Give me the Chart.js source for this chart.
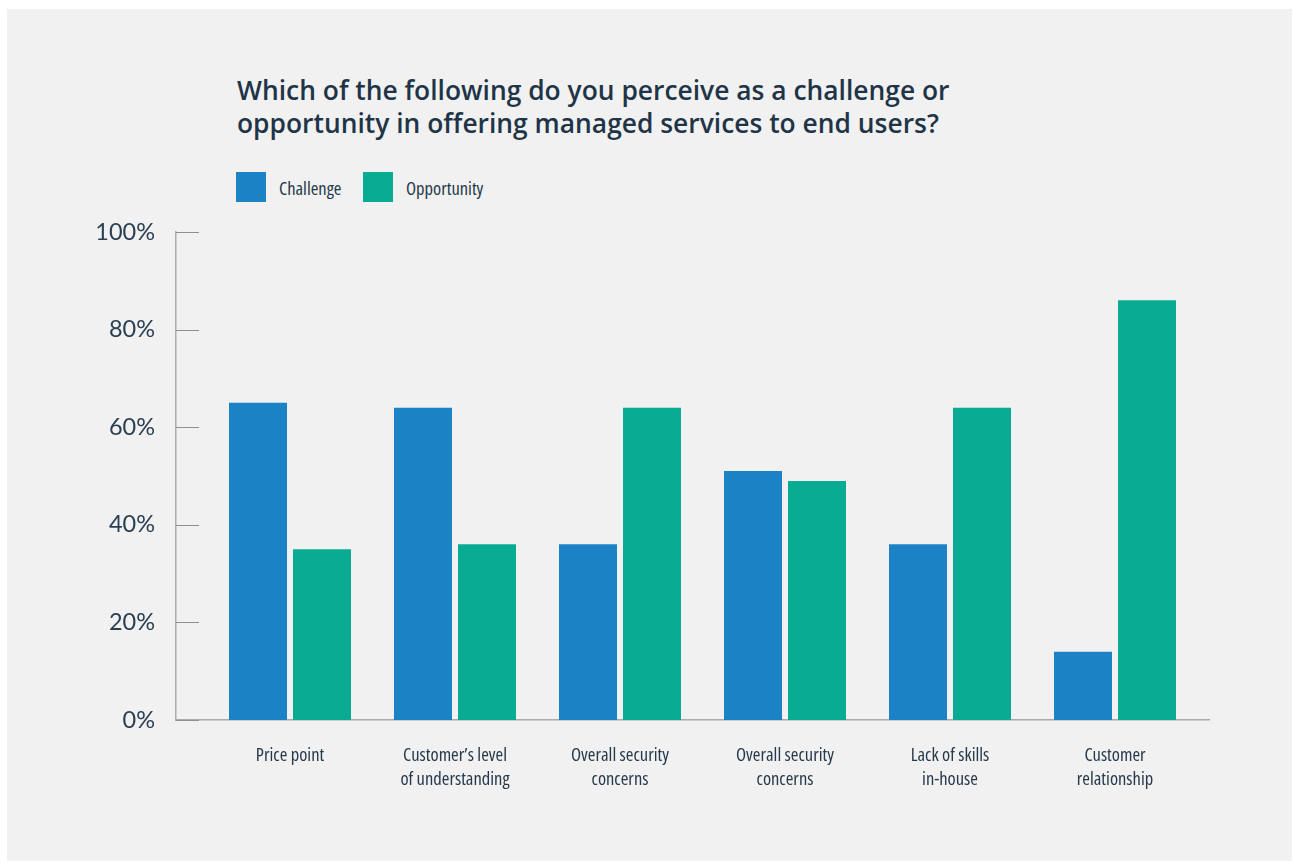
<!DOCTYPE html>
<html>
<head>
<meta charset="utf-8">
<script src="https://cdn.jsdelivr.net/npm/chart.js@4"></script>
<style>
  html, body { margin: 0; padding: 0; background: #ffffff; }
  body { width: 1293px; height: 863px; position: relative; overflow: hidden; }
  #panel { position: absolute; left: 7px; top: 9px; width: 1285px; height: 852px; background: #f1f1f1; }
  #title { position: absolute; left: 237px; top: 74px; font-family: "Open Sans", sans-serif; font-weight: 600;
           font-size: 26.4px; line-height: 33px; color: #1f3547; white-space: nowrap; }
  .leg { position: absolute; top: 172px; height: 30px; display: flex; align-items: center;
         font-family: "Open Sans", sans-serif; font-stretch: 75%; font-weight: 500; font-size: 18.5px; color: #26394b; }
  .leg span.box { display: inline-block; width: 30px; height: 30px; margin-right: 13px; }
  #wrap { position: absolute; left: 0; top: 0; width: 1293px; height: 863px; }
</style>
</head>
<body>
<div id="panel"></div>
<div id="title">Which of the following do you perceive as a challenge or<br>opportunity in offering managed services to end users?</div>
<div id="leg1" class="leg" style="left:236px"><span class="box" id="b1"></span><span id="t1"></span></div>
<div id="leg2" class="leg" style="left:363px"><span class="box" id="b2"></span><span id="t2"></span></div>
<div id="wrap"><canvas id="c" width="1293" height="863"></canvas></div>
<script>
const categories = [
  ["Price point"],
  ["Customer\u2019s level", "of understanding"],
  ["Overall security", "concerns"],
  ["Overall security", "concerns"],
  ["Lack of skills", "in-house"],
  ["Customer", "relationship"]
];
const challenge = [65, 64, 36, 51, 36, 14];
const opportunity = [35, 36, 64, 49, 64, 86];
const seriesNames = ["Challenge", "Opportunity"];
const seriesColors = ["#1b82c5", "#0aab93"];
const yTicks = [0, 20, 40, 60, 80, 100];

document.getElementById('b1').style.background = seriesColors[0];
document.getElementById('b2').style.background = seriesColors[1];
document.getElementById('t1').textContent = seriesNames[0];
document.getElementById('t2').textContent = seriesNames[1];

const toPoints = arr => arr.map((v, i) => ({ x: i, y: v }));

const innerTicks = {
  id: 'innerTicks',
  afterDraw(chart) {
    const ctx = chart.ctx, y = chart.scales.y, a = chart.chartArea;
    ctx.save();
    ctx.strokeStyle = '#8f8f8f';
    ctx.lineWidth = 1;
    yTicks.forEach(v => {
      const py = Math.round(y.getPixelForValue(v)) + 0.5;
      ctx.beginPath();
      ctx.moveTo(a.left, py);
      ctx.lineTo(a.left + 23, py);
      ctx.stroke();
    });
    ctx.restore();
  }
};

new Chart(document.getElementById('c'), {
  type: 'bar',
  data: {
    datasets: [
      { label: seriesNames[0], data: toPoints(challenge), backgroundColor: seriesColors[0] },
      { label: seriesNames[1], data: toPoints(opportunity), backgroundColor: seriesColors[1] }
    ]
  },
  options: {
    responsive: false,
    animation: false,
    devicePixelRatio: 1,
    categoryPercentage: 128 / 165,
    barPercentage: 58 / 64,
    layout: { padding: { left: 0, right: 84, top: 232, bottom: 0 } },
    plugins: { legend: { display: false }, title: { display: false }, tooltip: { enabled: false } },
    scales: {
      x: {
        type: 'linear',
        offset: false,
        min: -114 / 165,
        max: 919 / 165,
        afterBuildTicks: s => { s.ticks = categories.map((c, i) => ({ value: i })); },
        afterFit: s => { s.height = 143; },
        grid: { display: false, offset: false },
        border: { display: true, color: '#aaaaaa', width: 1.5 },
        ticks: {
          autoSkip: false,
          maxRotation: 0,
          padding: 16,
          color: '#26394b',
          font: { family: '"Open Sans", sans-serif', weight: '500 condensed', size: 18.5, lineHeight: 1.3 },
          callback: v => categories[v]
        }
      },
      y: {
        min: 0,
        max: 100,
        afterBuildTicks: s => { s.ticks = yTicks.map(v => ({ value: v })); },
        afterFit: s => { s.width = 176; },
        grid: { display: false },
        border: { display: true, color: '#aaaaaa', width: 1.5 },
        ticks: {
          padding: 13,
          color: '#2a3f52',
          font: { family: 'Lato, sans-serif', size: 23.5 },
          callback: v => v + '%'
        }
      }
    }
  },
  plugins: [innerTicks]
});
</script>
</body>
</html>
